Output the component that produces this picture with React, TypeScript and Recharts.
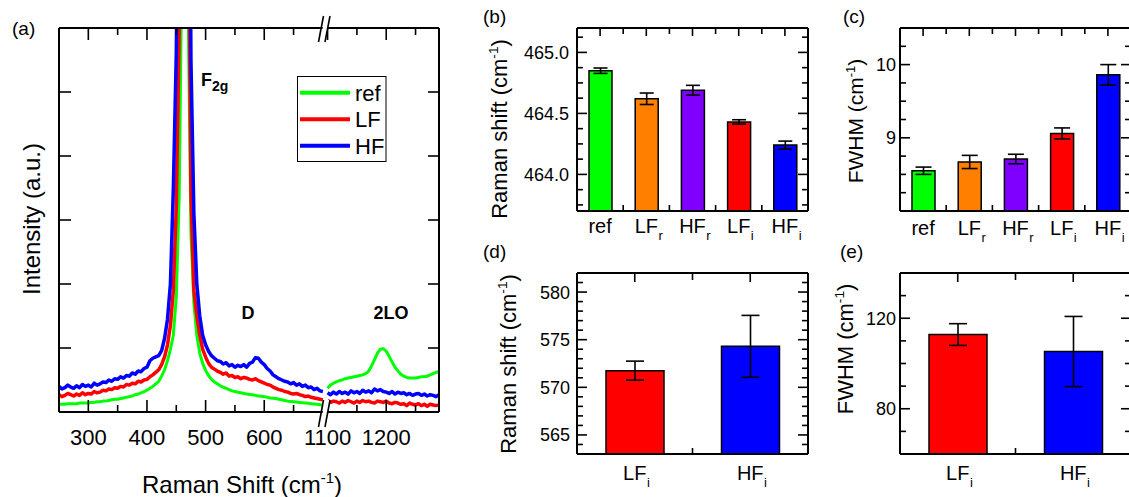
import React from 'react';
import { LineChart, Line, XAxis, YAxis, BarChart, Bar, Cell, ErrorBar } from 'recharts';

const FONT = '"Liberation Sans", Arial, sans-serif';

// ---- panel (a): Raman spectra (intensity in a.u.), sampled every 5 cm-1 ----
const shiftLow = [
  250, 255, 260, 265, 270, 275, 280, 285, 290, 295, 300, 305, 310, 315, 320, 325, 330, 335, 340, 345,
  350, 355, 360, 365, 370, 375, 380, 385, 390, 395, 400,
  405, 410, 415, 420, 425, 430, 435, 440, 445, 450, 455, 460, 465, 470, 475, 480, 485, 490, 495, 500, 505, 510,
  515, 520, 525, 530, 535, 540, 545, 550, 555, 560, 565, 570, 575, 580, 585, 590, 595, 600, 605, 610,
  615, 620, 625, 630, 635, 640, 645, 650, 655, 660, 665, 670, 675, 680, 685, 690, 695, 700,
];
const refLow = [
  0.12, 0.12, 0.12, 0.13, 0.13, 0.13, 0.13, 0.14, 0.14, 0.14, 0.14, 0.15, 0.15, 0.16, 0.16, 0.17, 0.17, 0.18, 0.19, 0.2,
  0.2, 0.21, 0.22, 0.23, 0.24, 0.25, 0.27, 0.28, 0.3, 0.32, 0.34,
  0.37, 0.4, 0.44, 0.48, 0.56, 0.66, 0.8, 0.98, 1.2, 1.8, 3.4, 7.5, 14, 6.5, 2.8, 1.7, 1.2, 0.92, 0.76, 0.65, 0.57, 0.51,
  0.47, 0.44, 0.41, 0.39, 0.37, 0.35, 0.33, 0.32, 0.31, 0.3, 0.29, 0.28, 0.275, 0.27, 0.26, 0.25, 0.245, 0.24, 0.23, 0.22,
  0.215, 0.21, 0.2, 0.19, 0.18, 0.17, 0.165, 0.16, 0.155, 0.15, 0.145, 0.14, 0.135, 0.13, 0.125, 0.12, 0.115, 0.11,
];
const lfLow = [
  0.27, 0.24, 0.26, 0.29, 0.27, 0.25, 0.28, 0.26, 0.3, 0.27, 0.29, 0.28, 0.32, 0.3, 0.31, 0.34, 0.33, 0.36, 0.35, 0.38,
  0.37, 0.4, 0.39, 0.43, 0.42, 0.45, 0.44, 0.48, 0.47, 0.5, 0.51,
  0.55, 0.58, 0.62, 0.66, 0.74, 0.86, 1.05, 1.35, 1.9, 3.2, 6.0, 12, 16, 9, 3.4, 1.9, 1.5, 1.2, 0.98, 0.86, 0.76, 0.7,
  0.67, 0.64, 0.62, 0.59, 0.61, 0.56, 0.57, 0.54, 0.55, 0.52, 0.54, 0.53, 0.51, 0.5, 0.52, 0.49, 0.47, 0.45, 0.43, 0.42,
  0.39, 0.37, 0.35, 0.34, 0.32, 0.31, 0.29, 0.28, 0.29, 0.27, 0.26, 0.24, 0.25, 0.23, 0.22, 0.21, 0.2, 0.19,
];
const hfLow = [
  0.4, 0.36, 0.38, 0.42, 0.39, 0.37, 0.41, 0.38, 0.43, 0.4, 0.42, 0.39, 0.45, 0.42, 0.44, 0.47, 0.46, 0.5, 0.48, 0.52,
  0.51, 0.55, 0.53, 0.57, 0.56, 0.61, 0.59, 0.64, 0.63, 0.68, 0.7,
  0.8, 0.84, 0.86, 0.88, 0.96, 1.15, 1.45, 2.0, 3.5, 5.6, 10, 16, 18, 13, 5.5, 3.1, 2.0, 1.5, 1.2, 1.05, 0.95, 0.88,
  0.84, 0.8, 0.79, 0.75, 0.77, 0.72, 0.74, 0.7, 0.73, 0.71, 0.74, 0.7, 0.76, 0.78, 0.85, 0.84, 0.78, 0.74, 0.68, 0.64,
  0.58, 0.55, 0.52, 0.5, 0.48, 0.47, 0.44, 0.46, 0.42, 0.44, 0.4, 0.42, 0.38, 0.39, 0.35, 0.37, 0.33, 0.32,
];
const shiftHigh = [
  1100, 1105, 1110, 1115, 1120, 1125, 1130, 1135, 1140, 1145, 1150, 1155, 1160, 1165, 1170, 1175, 1180, 1185, 1190, 1195,
  1200, 1205, 1210, 1215, 1220, 1225, 1230, 1235, 1240, 1245, 1250, 1255, 1260, 1265, 1270, 1275, 1280, 1285, 1290,
];
const refHigh = [
  0.37, 0.42, 0.45, 0.47, 0.49, 0.5, 0.52, 0.53, 0.54, 0.55, 0.56, 0.57, 0.58, 0.6, 0.64, 0.72, 0.82, 0.92, 0.98, 0.99,
  0.95, 0.87, 0.78, 0.7, 0.64, 0.59, 0.56, 0.54, 0.53, 0.53, 0.53, 0.54, 0.55, 0.55, 0.56, 0.58, 0.6, 0.62, 0.63,
];
const lfHigh = [
  0.18, 0.15, 0.17, 0.16, 0.14, 0.17, 0.15, 0.18, 0.16, 0.14, 0.17, 0.15, 0.18, 0.16, 0.17, 0.15, 0.14, 0.17, 0.16, 0.15,
  0.17, 0.14, 0.13, 0.15, 0.14, 0.12, 0.13, 0.1, 0.14, 0.12, 0.11, 0.13, 0.1, 0.12, 0.09, 0.12, 0.11, 0.1, 0.11,
];
const hfHigh = [
  0.3, 0.27, 0.31, 0.28, 0.32, 0.29, 0.31, 0.28, 0.33, 0.3, 0.32, 0.29, 0.34, 0.31, 0.33, 0.3, 0.36, 0.33, 0.35, 0.32,
  0.31, 0.29, 0.32, 0.28, 0.31, 0.29, 0.3, 0.27, 0.29, 0.26, 0.28, 0.29, 0.26, 0.28, 0.25, 0.27, 0.26, 0.24, 0.27,
];

const specTickShifts = [300, 350, 400, 450, 500, 550, 600, 650, 1100, 1150, 1200, 1250];
const specTickLabels = [300, 400, 500, 600, 1100, 1200];
const specYTicks = [1, 2, 3, 4, 5];

// ---- panels (b)-(e): fitted peak parameters ----
const f2gCats = ['ref', 'LFr', 'HFr', 'LFi', 'HFi'];
const f2gMain = ['ref', 'LF', 'HF', 'LF', 'HF'];
const f2gSub = ['', 'r', 'r', 'i', 'i'];
const f2gColors = ['#00ff00', '#ff8000', '#8000ff', '#ff0000', '#0000ff'];
const f2gShift = [464.85, 464.62, 464.69, 464.43, 464.24];
const f2gShiftErr = [0.022, 0.047, 0.04, 0.018, 0.033];
const f2gFwhm = [8.55, 8.67, 8.71, 9.06, 9.86];
const f2gFwhmErr = [0.05, 0.09, 0.065, 0.075, 0.14];

const dCats = ['LFi', 'HFi'];
const dMain = ['LF', 'HF'];
const dSub = ['i', 'i'];
const dColors = ['#ff0000', '#0000ff'];
const dShift = [571.75, 574.3];
const dShiftErr = [1.0, 3.25];
const dFwhm = [112.8, 105.3];
const dFwhmErr = [4.8, 15.5];

const shiftTicksB = [463.75, 463.875, 464, 464.125, 464.25, 464.375, 464.5, 464.625, 464.75, 464.875, 465, 465.125];
const fwhmTicksC = [8.25, 8.5, 8.75, 9, 9.25, 9.5, 9.75, 10, 10.25];
const shiftTicksD = [564, 565, 566, 567, 568, 569, 570, 571, 572, 573, 574, 575, 576, 577, 578, 579, 580, 581];
const fwhmTicksE = [70, 80, 90, 100, 110, 120, 130];

// axis break of panel (a): 700 -> 1100 cm-1 squeezed together
const BREAK = 392;
const toPlotX = (s: number) => (s > 900 ? s - BREAK : s);
const fromPlotX = (p: number) => (p > 700 ? p + BREAK : p);

const spectrumRows = [
  ...shiftLow.map((s, i) => ({ x: s, ref: refLow[i], lf: lfLow[i], hf: hfLow[i] })),
  { x: 704, ref: null, lf: null, hf: null },
  ...shiftHigh.map((s, i) => ({ x: toPlotX(s), ref: refHigh[i], lf: lfHigh[i], hf: hfHigh[i] })),
];

const AX = { stroke: '#000', strokeWidth: 2 };
const TICK = { stroke: '#000', strokeWidth: 1.6 };
const TXT = { fontFamily: FONT, fill: '#000' };

// approximate glyph widths (em) to center the main part of a subscripted label
const CW: Record<string, number> = { L: 0.556, F: 0.611, H: 0.722, r: 0.333, e: 0.556, f: 0.278 };
const textW = (s: string, size: number) => s.split('').reduce((a, c) => a + (CW[c] ?? 0.556), 0) * size;

// inward ticks: right axis draws right + left ticks, top axis draws top + bottom ticks
const sideTicks = (vertical: boolean, span: number, lenOf: (v: number) => number, lenOther?: (v: number) => number) =>
  (props: any) => {
    const { x, y, payload } = props;
    const v = payload.value as number;
    const a = lenOf(v);
    const b = (lenOther ?? lenOf)(v);
    return vertical ? (
      <g>
        {a > 0 && <line x1={x} y1={y} x2={x - a} y2={y} {...TICK} />}
        {b > 0 && <line x1={x - span} y1={y} x2={x - span + b} y2={y} {...TICK} />}
      </g>
    ) : (
      <g>
        {a > 0 && <line x1={x} y1={y} x2={x} y2={y + a} {...TICK} />}
        {b > 0 && <line x1={x} y1={y + span} x2={x} y2={y + span - b} {...TICK} />}
      </g>
    );
  };

const leftLabels = (label: (v: number) => string | null, size: number, gap: number) => (props: any) => {
  const txt = label(props.payload.value);
  return <g>{txt && <text x={props.x - gap} y={props.y} dy="0.36em" textAnchor="end" fontSize={size} {...TXT}>{txt}</text>}</g>;
};

function SpectrumPanel() {
  const ticks = specTickShifts.map(toPlotX);
  const isLab = (p: number) => specTickLabels.includes(fromPlotX(p));
  const plotW = 380;
  const plotH = 384;
  const bottomLabels = (props: any) => {
    const s = fromPlotX(props.payload.value);
    return <g>{isLab(props.payload.value) && <text x={props.x} y={props.y + 33} textAnchor="middle" fontSize={22} {...TXT}>{s}</text>}</g>;
  };
  const lenTop = (p: number) => (isLab(p) ? 12 : 7);
  const lenBottom = (p: number) => (fromPlotX(p) === 1100 ? 0 : isLab(p) ? 12 : 7);
  return (
    <div style={{ position: 'absolute', left: 0, top: 0 }}>
      <LineChart width={460} height={497} data={spectrumRows} margin={{ top: 0, right: 0, bottom: 0, left: 0 }}>
        <XAxis dataKey="x" type="number" domain={[250, 898]} allowDataOverflow ticks={ticks} interval={0} height={85}
          tickSize={0} tickMargin={0} tickLine={false} axisLine={AX} tick={bottomLabels} />
        <XAxis xAxisId="top" orientation="top" dataKey="x" type="number" domain={[250, 898]} allowDataOverflow ticks={ticks}
          interval={0} height={28} tickSize={0} tickMargin={0} tickLine={false} axisLine={AX}
          tick={sideTicks(false, plotH, lenTop, lenBottom)} />
        <YAxis type="number" domain={[0, 6]} allowDataOverflow ticks={specYTicks} interval={0} width={59}
          tickSize={0} tickMargin={0} tickLine={false} axisLine={AX} tick={false} />
        <YAxis yAxisId="right" orientation="right" type="number" domain={[0, 6]} allowDataOverflow ticks={specYTicks} interval={0}
          width={21} tickSize={0} tickMargin={0} tickLine={false} axisLine={AX}
          tick={sideTicks(true, plotW, () => 11, () => 12)} />
        <Line dataKey="ref" stroke="#00ff00" strokeWidth={3} dot={false} isAnimationActive={false} strokeLinejoin="round" />
        <Line dataKey="lf" stroke="#ff0000" strokeWidth={3.5} dot={false} isAnimationActive={false} strokeLinejoin="round" />
        <Line dataKey="hf" stroke="#0000ff" strokeWidth={3.5} dot={false} isAnimationActive={false} strokeLinejoin="round" />
      </LineChart>
    </div>
  );
}

interface BarPanelProps {
  left: number; top: number; width: number; height: number;
  axL: number; axR: number; axT: number; axB: number;
  cats: string[]; values: number[]; errs: number[]; colors: string[];
  mains: string[]; subs: string[];
  domain: [number, number]; ticks: number[];
  isMajor: (v: number) => boolean; fmt: (v: number) => string;
  labelGap: number; barSize: number; cap: number; xGap: number;
  topCenter: number; topMid: number;
}

function BarPanel(p: BarPanelProps) {
  const rows = p.cats.map((c, i) => ({ name: c, v: p.values[i], e: p.errs[i] }));
  const n = rows.length;
  const plotW = p.width - p.axL - p.axR;
  const plotH = p.height - p.axT - p.axB;
  const band = plotW / n;
  const yLen = (v: number) => (p.isMajor(v) ? 10 : 6);

  const bottomLabels = (props: any) => {
    const i = props.index ?? props.payload?.index ?? 0;
    const main = p.mains[i];
    const sub = p.subs[i];
    const y = props.y + p.xGap;
    return (
      <g>
        <text x={props.x} y={y} textAnchor="middle" fontSize={20} {...TXT}>{main}</text>
        {sub && <text x={props.x + textW(main, 20) / 2 + 0.5} y={y + 7} fontSize={13} {...TXT}>{sub}</text>}
      </g>
    );
  };
  const topTicks = (props: any) => {
    const { x, y } = props;
    const i = props.index ?? props.payload?.index ?? 0;
    const yb = y + plotH;
    return (
      <g>
        <line x1={x} y1={y} x2={x} y2={y + p.topCenter} {...TICK} />
        {i < n - 1 && <line x1={x + band / 2} y1={y} x2={x + band / 2} y2={y + p.topMid} {...TICK} />}
        {i < n - 1 && <line x1={x + band / 2} y1={yb} x2={x + band / 2} y2={yb - 6} {...TICK} />}
      </g>
    );
  };

  return (
    <div style={{ position: 'absolute', left: p.left, top: p.top }}>
      <BarChart width={p.width} height={p.height} data={rows} margin={{ top: 0, right: 0, bottom: 0, left: 0 }}>
        <XAxis dataKey="name" height={p.axB} interval={0} tickSize={0} tickMargin={0} tickLine={false} axisLine={AX}
          tick={bottomLabels} />
        <XAxis xAxisId="top" orientation="top" dataKey="name" height={p.axT} interval={0} tickSize={0} tickMargin={0}
          tickLine={false} axisLine={AX} tick={topTicks} />
        <YAxis type="number" domain={p.domain} allowDataOverflow ticks={p.ticks} interval={0} width={p.axL}
          tickSize={0} tickMargin={0} tickLine={false} axisLine={AX}
          tick={leftLabels((v) => (p.isMajor(v) ? p.fmt(v) : null), 18, p.labelGap)} />
        <YAxis yAxisId="right" orientation="right" type="number" domain={p.domain} allowDataOverflow ticks={p.ticks} interval={0}
          width={p.axR} tickSize={0} tickMargin={0} tickLine={false} axisLine={AX}
          tick={sideTicks(true, plotW, yLen)} />
        <Bar dataKey="v" barSize={p.barSize} stroke="#000" strokeWidth={1.5} isAnimationActive={false}>
          {rows.map((r, i) => <Cell key={r.name} fill={p.colors[i]} />)}
          <ErrorBar dataKey="e" direction="y" width={p.cap} stroke="#000" strokeWidth={1.6} isAnimationActive={false} />
        </Bar>
      </BarChart>
    </div>
  );
}

const isHalf = (v: number) => Math.abs(v * 2 - Math.round(v * 2)) < 1e-6;
const isInt = (v: number) => Math.abs(v - Math.round(v)) < 1e-6;

function Overlay() {
  const sup = (s: number) => <tspan dy={-s * 0.4} fontSize={s * 0.62}>-1</tspan>;
  return (
    <svg width={1129} height={497} style={{ position: 'absolute', left: 0, top: 0, pointerEvents: 'none' }}>
      {/* panel labels */}
      <text x={12} y={35} fontSize={19} {...TXT}>(a)</text>
      <text x={483} y={23} fontSize={19} {...TXT}>(b)</text>
      <text x={843} y={23} fontSize={19} {...TXT}>(c)</text>
      <text x={483} y={258} fontSize={19} {...TXT}>(d)</text>
      <text x={840} y={258} fontSize={19} {...TXT}>(e)</text>

      {/* panel (a) titles */}
      <text transform="translate(40,219) rotate(-90)" textAnchor="middle" fontSize={24} {...TXT}>Intensity (a.u.)</text>
      <text x={242} y={493} textAnchor="middle" fontSize={24} {...TXT}>
        Raman Shift (cm{sup(24)}<tspan dy={24 * 0.4} fontSize={24}>)</tspan>
      </text>

      {/* axis break marks */}
      <polygon points="320,42 325,16 330,16 325,42" fill="#fff" />
      <line x1={318.5} y1={42} x2={323.5} y2={16} stroke="#000" strokeWidth={1.6} />
      <line x1={325} y1={42} x2={330} y2={16} stroke="#000" strokeWidth={1.6} />
      <polygon points="320,427 325,400 330,400 325,427" fill="#fff" />
      <line x1={318.5} y1={427} x2={323.5} y2={400} stroke="#000" strokeWidth={1.6} />
      <line x1={325} y1={427} x2={330} y2={400} stroke="#000" strokeWidth={1.6} />

      {/* peak annotations */}
      <text x={201} y={86} fontSize={18} fontWeight="bold" {...TXT}>F<tspan dy={5} fontSize={14}>2g</tspan></text>
      <text x={248} y={319} textAnchor="middle" fontSize={18} fontWeight="bold" {...TXT}>D</text>
      <text x={391} y={319} textAnchor="middle" fontSize={18} fontWeight="bold" {...TXT}>2LO</text>

      {/* legend */}
      <rect x={297.5} y={76.5} width={88.5} height={85} fill="#fff" stroke="#000" strokeWidth={1} />
      {[['ref', '#00ff00'], ['LF', '#ff0000'], ['HF', '#0000ff']].map(([name, c], i) => {
        const y = 92.7 + i * 26.5;
        return (
          <g key={name}>
            <line x1={300} y1={y} x2={350} y2={y} stroke={c} strokeWidth={4} />
            <text x={355} y={y + 8} fontSize={22} {...TXT}>{name}</text>
          </g>
        );
      })}

      {/* bar panel titles */}
      <text transform="translate(507,129) rotate(-90)" textAnchor="middle" fontSize={22} {...TXT}>
        Raman shift (cm{sup(22)}<tspan dy={22 * 0.4} fontSize={22}>)</tspan>
      </text>
      <text transform="translate(516,364) rotate(-90)" textAnchor="middle" fontSize={22} {...TXT}>
        Raman shift (cm{sup(22)}<tspan dy={22 * 0.4} fontSize={22}>)</tspan>
      </text>
      <text transform="translate(863,121) rotate(-90)" textAnchor="middle" fontSize={21} {...TXT}>
        FWHM (cm{sup(21)}<tspan dy={21 * 0.4} fontSize={21}>)</tspan>
      </text>
      <text transform="translate(853,349) rotate(-90)" textAnchor="middle" fontSize={22} {...TXT}>
        FWHM (cm{sup(22)}<tspan dy={22 * 0.4} fontSize={22}>)</tspan>
      </text>
    </svg>
  );
}

export default function App() {
  return (
    <div style={{ position: 'absolute', left: 0, top: 0, width: 1129, height: 497, overflow: 'hidden', background: '#fff', fontFamily: FONT }}>
      <SpectrumPanel />
      <BarPanel left={470} top={0} width={345} height={250} axL={107} axR={7} axT={28} axB={39}
        cats={f2gCats} values={f2gShift} errs={f2gShiftErr} colors={f2gColors} mains={f2gMain} subs={f2gSub}
        domain={[463.7, 465.2]} ticks={shiftTicksB} isMajor={isHalf} fmt={(v) => v.toFixed(1)}
        labelGap={8} barSize={23} cap={7} xGap={22} topCenter={8} topMid={6} />
      <BarPanel left={815} top={0} width={318} height={250} axL={85} axR={2} axT={28} axB={39}
        cats={f2gCats} values={f2gFwhm} errs={f2gFwhmErr} colors={f2gColors} mains={f2gMain} subs={f2gSub}
        domain={[8, 10.5]} ticks={fwhmTicksC} isMajor={isInt} fmt={(v) => String(v)}
        labelGap={4} barSize={23} cap={8} xGap={24} topCenter={8} topMid={6} />
      <BarPanel left={470} top={250} width={345} height={247} axL={107} axR={7} axT={23} axB={43}
        cats={dCats} values={dShift} errs={dShiftErr} colors={dColors} mains={dMain} subs={dSub}
        domain={[563, 582]} ticks={shiftTicksD} isMajor={(v) => v % 5 === 0} fmt={(v) => String(v)}
        labelGap={7} barSize={58} cap={9} xGap={26} topCenter={9} topMid={7} />
      <BarPanel left={815} top={250} width={318} height={247} axL={85} axR={2} axT={23} axB={43}
        cats={dCats} values={dFwhm} errs={dFwhmErr} colors={dColors} mains={dMain} subs={dSub}
        domain={[60, 140]} ticks={fwhmTicksE} isMajor={(v) => v % 40 === 0} fmt={(v) => String(v)}
        labelGap={4} barSize={58} cap={9} xGap={26} topCenter={9} topMid={7} />
      <Overlay />
    </div>
  );
}
